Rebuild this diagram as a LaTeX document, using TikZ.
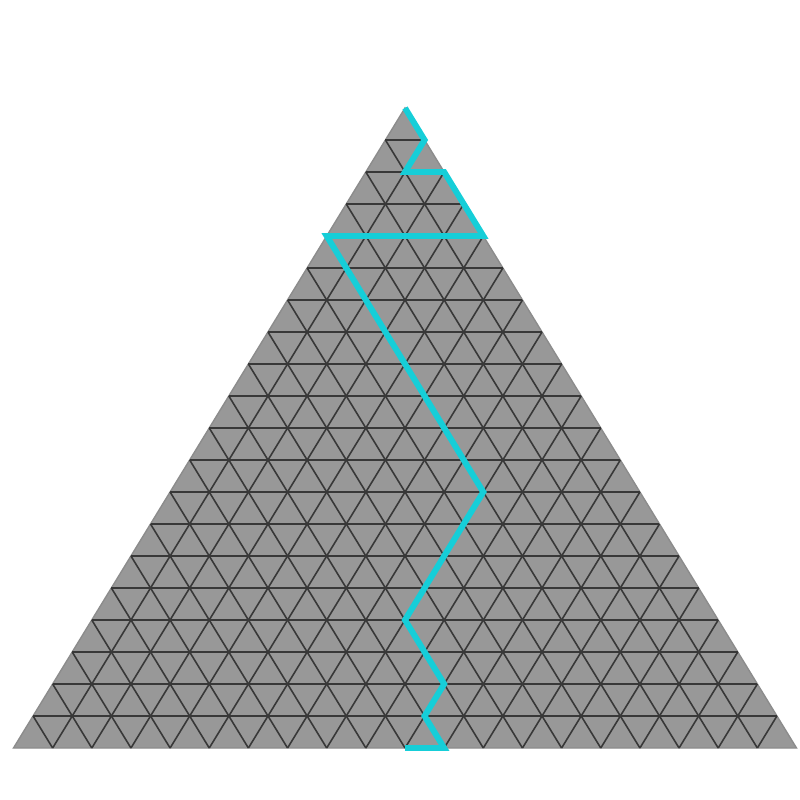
\documentclass[tikz,border=0pt]{standalone}
\usepackage{tikz}

\definecolor{facegray}{RGB}{152,152,152}
\definecolor{routecyan}{RGB}{22,206,216}

\begin{document}
\begin{tikzpicture}[
  x=0.01cm, y=-0.01cm,
  face/.style={fill=facegray, draw=black!45, line width=0.4pt},
  mesh/.style={draw=black!78, line width=0.45pt},
  route/.style={draw=routecyan, line width=1.7pt, line join=miter}
]
\useasboundingbox (0,0) rectangle (800,800);

% ---------- lattice vertices: row k from the apex, j-th point in that row ----------
\foreach \k in {0,...,20}
  \foreach \j in {0,...,\k}
    \coordinate (v\k-\j) at ({405-19.575*\k+39.15*\j},{108+32*\k});

% ---------- filled triangle ----------
\path[face] (v0-0) -- (v20-0) -- (v20-20) -- cycle;

% ---------- mesh: horizontal rows and both diagonal families ----------
\foreach \k in {1,...,19}
  \draw[mesh] (v\k-0) -- (v\k-\k);
\foreach \j in {1,...,19}
  \draw[mesh] (v\j-\j) -- (v20-\j);
\foreach \m in {1,...,19} {
  \pgfmathtruncatemacro{\e}{20-\m}
  \draw[mesh] (v\m-0) -- (v20-\e);
}

% ---------- cyan route through the lattice ----------
\draw[route] (v0-0) -- (v1-1) -- (v2-1) -- (v2-2) -- (v4-4) -- (v4-0)
  -- (v12-8) -- (v16-8) -- (v18-10) -- (v19-10) -- (v20-11) -- (v20-10);

\end{tikzpicture}
\end{document}
